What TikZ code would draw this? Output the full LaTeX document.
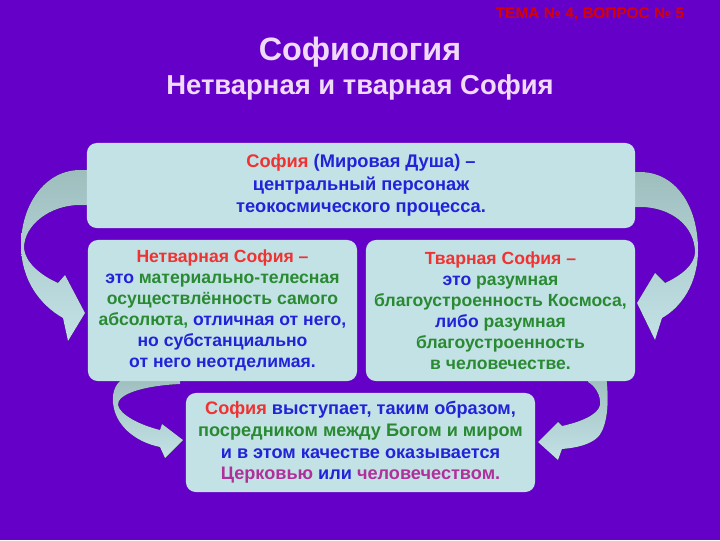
\documentclass[tikz,border=0pt]{standalone}
\usepackage{fontspec}
\setmainfont{Liberation Sans}
\usepackage{tikz}
\usetikzlibrary{positioning}
\definecolor{slidebg}{HTML}{6400C8}
\definecolor{boxfill}{HTML}{C2E2E6}
\definecolor{arrowdark}{HTML}{9EBEBE}
\definecolor{sofred}{HTML}{F03232}
\definecolor{sofblue}{HTML}{2222D8}
\definecolor{sofgreen}{HTML}{2A8A32}
\definecolor{sofpink}{HTML}{B0309A}
\definecolor{titlefg}{HTML}{F0DAF8}
\newcommand{\sred}[1]{\textcolor{sofred}{#1}}
\newcommand{\sgreen}[1]{\textcolor{sofgreen}{#1}}
\newcommand{\spink}[1]{\textcolor{sofpink}{#1}}

\begin{document}
\begin{tikzpicture}[x=0.025cm, y=-0.025cm,
    box/.style={rectangle, rounded corners=7pt, fill=boxfill, inner sep=0pt,
      align=center, text=sofblue, font=\bfseries\fontsize{12.5}{15}\selectfont},
    bendarrow/.style={top color=arrowdark, bottom color=boxfill}]
  \fill[slidebg] (0,0) rectangle (720,540);
  \node[text=red!85!black, font=\bfseries\fontsize{11}{13}\selectfont] (topic) at (590,14) {ТЕМА № 4, ВОПРОС № 5};
  \node[text=titlefg, font=\bfseries\fontsize{23}{27}\selectfont] (title) at (360,52) {Софиология};
  \node[text=titlefg, font=\bfseries\fontsize{19.5}{23}\selectfont] (subtitle) at (360,87) {Нетварная и тварная София};
  \fill[bendarrow] (100,170) -- (80,170) .. controls (45,170) and (21,205) .. (21,245)
    .. controls (21,280) and (40,305) .. (63,318) -- (68,341) -- (85,313) -- (65,275) -- (58,283)
    .. controls (40,275) and (25,262) .. (24,248) .. controls (24,225) and (50,205) .. (80,205) -- (100,205) -- cycle;
  \fill[bendarrow] (620,172) -- (640,172) .. controls (675,172) and (698,205) .. (698,250)
    .. controls (698,285) and (680,308) .. (662,318) -- (655,340) -- (637,303) -- (655,273) -- (665,283)
    .. controls (682,275) and (694,265) .. (695,253) .. controls (695,225) and (670,207) .. (640,207) -- (620,207) -- cycle;
  \fill[bendarrow] (180,376) -- (130,376) .. controls (115,380) and (112,392) .. (113,403)
    .. controls (115,425) and (135,442) .. (160,447) -- (165,458) -- (183,440) -- (162,424) -- (160,430)
    .. controls (140,425) and (120,415) .. (118,405) .. controls (117,395) and (140,386) .. (180,384) -- cycle;
  \fill[bendarrow] (588,376) -- (606,376) .. controls (609,395) and (609,425) .. (598,437)
    .. controls (590,445) and (575,448) .. (562,449) -- (558,460) -- (538,442) -- (558,422) -- (562,426)
    .. controls (580,422) and (598,415) .. (600,405) .. controls (601,395) and (595,386) .. (588,382) -- cycle;
  \node[box, minimum width=13.7cm, minimum height=2.125cm, font=\bfseries\fontsize{13}{16}\selectfont] (soul) at (361,185.5)
    {\sred{София} (Мировая Душа) –\\центральный персонаж\\теокосмического процесса.};
  \node[box, minimum width=6.725cm, minimum height=3.525cm] (uncreated) at (222.5,310.5)
    {\sred{Нетварная София –}\\это \sgreen{материально-телесная}\\\sgreen{осуществлённость самого}\\
     \sgreen{абсолюта,} отличная от него,\\но субстанциально\\от него неотделимая.};
  \node[box, minimum width=6.725cm, minimum height=3.525cm] (created) at (500.5,310.5)
    {\sred{Тварная София –}\\это \sgreen{разумная}\\\sgreen{благоустроенность Космоса,}\\
     либо \sgreen{разумная}\\\sgreen{благоустроенность}\\\sgreen{в человечестве.}};
  \node[box, minimum width=8.725cm, minimum height=2.475cm, font=\bfseries\fontsize{12.9}{15.4}\selectfont] (mediator) at (360.5,442.5)
    {\sred{София} выступает, таким образом,\\\sgreen{посредником между Богом и миром}\\и в этом качестве оказывается\\
     \spink{Церковью} или \spink{человечеством.}};
\end{tikzpicture}
\end{document}
